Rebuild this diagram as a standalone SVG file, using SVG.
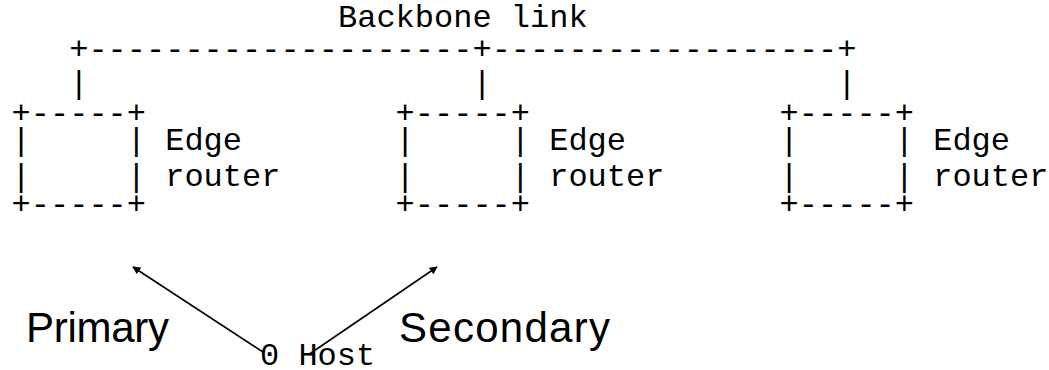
<svg xmlns="http://www.w3.org/2000/svg" width="1049" height="370" viewBox="0 0 1049 370">
  <style>
    .mono { font-family: "Liberation Mono", "Courier New", monospace; font-size: 32px; fill: #000; }
    .sans { font-family: "Liberation Sans", Arial, sans-serif; font-size: 42px; fill: #000; }
    .arrow { stroke: #000; stroke-width: 1.6; fill: none; marker-end: url(#head); }
  </style>
  <defs>
    <marker id="head" viewBox="0 0 10 10" refX="9" refY="5" markerWidth="8" markerHeight="8" markerUnits="userSpaceOnUse" orient="auto">
      <path d="M0,0 L10,5 L0,10 z" fill="#000"/>
    </marker>
  </defs>

  <!-- ASCII backbone: label, horizontal link and drops to each router -->
  <g id="backbone">
    <text class="mono" x="338" y="27">Backbone link</text>
    <text class="mono" x="69.2" y="59">+--------------------+------------------+</text>
    <text class="mono" x="69.2" y="93">|</text>
    <text class="mono" x="472.4" y="93">|</text>
    <text class="mono" x="837.2" y="93">|</text>
  </g>

  <!-- Edge routers drawn as character boxes -->
  <g id="router1">
    <text class="mono" x="11.6" y="123">+-----+</text>
    <text class="mono" x="11.6" y="150">|</text>
    <text class="mono" x="126.8" y="150">|</text>
    <text class="mono" x="165.2" y="150">Edge</text>
    <text class="mono" x="11.6" y="186">|</text>
    <text class="mono" x="126.8" y="186">|</text>
    <text class="mono" x="165.2" y="186">router</text>
    <text class="mono" x="11.6" y="214">+-----+</text>
  </g>
  <g id="router2">
    <text class="mono" x="395.6" y="123">+-----+</text>
    <text class="mono" x="395.6" y="150">|</text>
    <text class="mono" x="510.8" y="150">|</text>
    <text class="mono" x="549.2" y="150">Edge</text>
    <text class="mono" x="395.6" y="186">|</text>
    <text class="mono" x="510.8" y="186">|</text>
    <text class="mono" x="549.2" y="186">router</text>
    <text class="mono" x="395.6" y="214">+-----+</text>
  </g>
  <g id="router3">
    <text class="mono" x="779.6" y="123">+-----+</text>
    <text class="mono" x="779.6" y="150">|</text>
    <text class="mono" x="894.8" y="150">|</text>
    <text class="mono" x="933.2" y="150">Edge</text>
    <text class="mono" x="779.6" y="186">|</text>
    <text class="mono" x="894.8" y="186">|</text>
    <text class="mono" x="933.2" y="186">router</text>
    <text class="mono" x="779.6" y="214">+-----+</text>
  </g>

  <!-- Host -->
  <g id="host">
    <text class="mono" x="260" y="365">0 Host</text>
  </g>

  <!-- Path labels -->
  <g id="labels">
    <text class="sans" x="26" y="342" textLength="143" lengthAdjust="spacing">Primary</text>
    <text class="sans" x="399" y="342" textLength="211" lengthAdjust="spacing">Secondary</text>
  </g>

  <!-- Host-to-router arrows -->
  <g id="connectors">
    <line class="arrow" x1="263" y1="352" x2="133" y2="267"/>
    <line class="arrow" x1="308" y1="355" x2="437" y2="267"/>
  </g>
</svg>
